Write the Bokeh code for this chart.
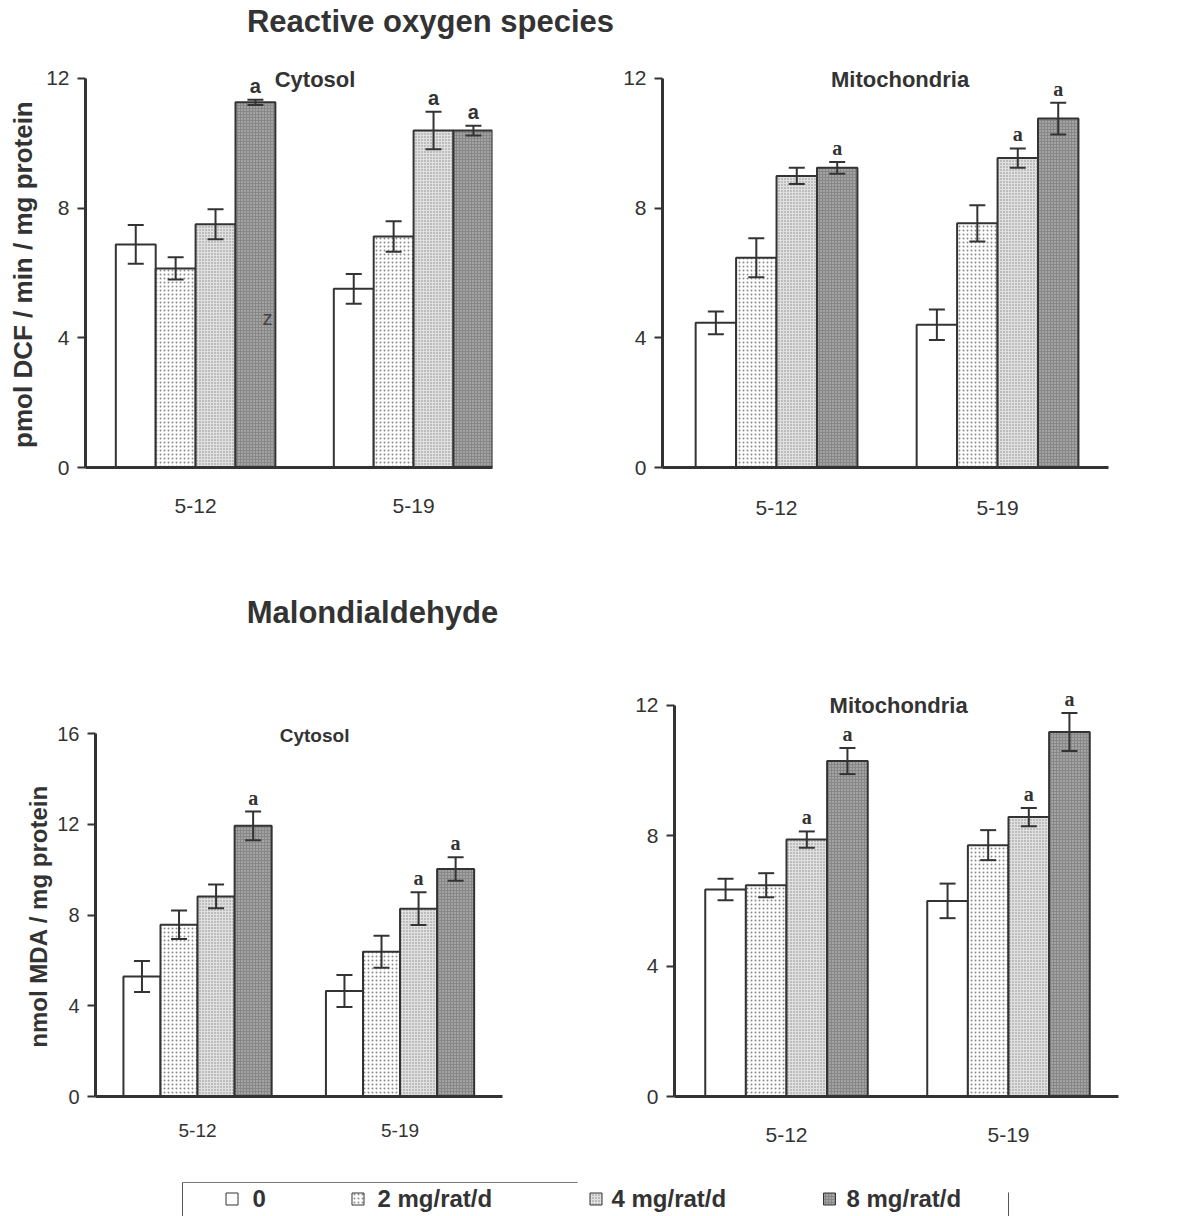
import math

from bokeh.plotting import figure
from bokeh.layouts import column, row
from bokeh.models import ColumnDataSource, Whisker, TeeHead, FixedTicker, Label, Range1d
from bokeh.core.properties import value
from bokeh.embed import file_html
from bokeh.resources import INLINE

# ---------------------------------------------------------------- data
groups = ["5-12", "5-19"]
doses = ["0", "2 mg/rat/d", "4 mg/rat/d", "8 mg/rat/d"]

# reactive oxygen species, pmol DCF / min / mg protein  (rows: groups, cols: doses)
ros_cyt_mean = [[6.88, 6.14, 7.50, 11.26], [5.51, 7.12, 10.39, 10.39]]
ros_cyt_err = [[0.60, 0.34, 0.46, 0.08], [0.46, 0.47, 0.58, 0.15]]
ros_mit_mean = [[4.46, 6.47, 8.99, 9.24], [4.40, 7.53, 9.54, 10.76]]
ros_mit_err = [[0.35, 0.60, 0.25, 0.18], [0.47, 0.56, 0.30, 0.49]]

# malondialdehyde, nmol MDA / mg protein
mda_cyt_mean = [[5.29, 7.57, 8.82, 11.93], [4.65, 6.38, 8.28, 10.03]]
mda_cyt_err = [[0.68, 0.63, 0.52, 0.63], [0.71, 0.71, 0.72, 0.52]]
mda_mit_mean = [[6.35, 6.48, 7.88, 10.29], [6.00, 7.71, 8.57, 11.18]]
mda_mit_err = [[0.33, 0.37, 0.25, 0.40], [0.53, 0.46, 0.28, 0.58]]

# significance letters ("a") per bar
ros_cyt_sig = [[0, 0, 0, 1], [0, 0, 1, 1]]
ros_mit_sig = [[0, 0, 0, 1], [0, 0, 1, 1]]
mda_cyt_sig = [[0, 0, 0, 1], [0, 0, 1, 1]]
mda_mit_sig = [[0, 0, 1, 1], [0, 0, 1, 1]]

# ---------------------------------------------------------------- style
INK = "#333333"
SANS = "Liberation Sans"
SERIF = "Liberation Serif"
BAR_W = 0.183

BAR_STYLES = [
    dict(fill_color="white"),
    dict(fill_color="white", hatch_pattern="dot", hatch_scale=4,
         hatch_color="#8a8a8a", hatch_weight=1),
    dict(fill_color="#e0e0e0", hatch_pattern="dot", hatch_scale=3,
         hatch_color="#8a8a8a", hatch_weight=1),
    dict(fill_color="#878787", hatch_pattern="dot", hatch_scale=3,
         hatch_color="#cdcdcd", hatch_weight=1),
]


def bar_x(gi, si):
    return gi + (si - 1.5) * BAR_W


def blank(width, height):
    p = figure(width=width, height=height, x_range=Range1d(0, width),
               y_range=Range1d(0, height), x_axis_type=None, y_axis_type=None,
               toolbar_location=None, output_backend="svg", min_border=0)
    p.outline_line_color = None
    p.grid.visible = False
    return p


def side_label(text, width, height, x, y, size):
    """Narrow strip carrying a rotated y-axis title."""
    p = blank(width, height)
    p.text(x=[x], y=[y], text=[text], angle=math.pi / 2,
           text_font=value(SANS), text_font_style="bold", text_font_size=size,
           text_color=INK, text_align="center", text_baseline="middle")
    return p


def panel(means, errs, sig, *, width, height, borders, x_range, y_end,
          y_ticks, y_tick_size="21px", x_tick_size="21px", x_standoff=30,
          mark_font=SERIF, title="", title_pos=(0.5, 12.0), title_size="22px"):
    left, right, top, bottom = borders
    p = figure(width=width, height=height, x_range=Range1d(*x_range),
               y_range=Range1d(0, y_end), toolbar_location=None,
               output_backend="svg", min_border_left=left,
               min_border_right=right, min_border_top=top,
               min_border_bottom=bottom)
    p.outline_line_color = None
    p.grid.visible = False
    p.background_fill_color = "white"

    for si, style in enumerate(BAR_STYLES):
        src = ColumnDataSource(dict(
            x=[bar_x(gi, si) for gi in range(len(groups))],
            top=[means[gi][si] for gi in range(len(groups))],
        ))
        p.vbar(x="x", top="top", bottom=0, width=BAR_W, source=src,
               line_color=INK, line_width=2, **style)

    xs, ups, los = [], [], []
    for gi in range(len(groups)):
        for si in range(len(doses)):
            xs.append(bar_x(gi, si))
            ups.append(means[gi][si] + errs[gi][si])
            los.append(means[gi][si] - errs[gi][si])
    wsrc = ColumnDataSource(dict(x=xs, upper=ups, lower=los))
    w = Whisker(base="x", upper="upper", lower="lower", source=wsrc,
                line_color=INK, line_width=2, level="overlay")
    w.upper_head = TeeHead(size=16, line_color=INK, line_width=2)
    w.lower_head = TeeHead(size=16, line_color=INK, line_width=2)
    p.add_layout(w)

    mx, my = [], []
    for gi in range(len(groups)):
        for si in range(len(doses)):
            if sig[gi][si]:
                mx.append(bar_x(gi, si))
                my.append(means[gi][si] + errs[gi][si])
    p.text(x=mx, y=my, text=["a"] * len(mx), text_font=value(mark_font),
           text_font_style="bold", text_font_size="20px", text_color=INK,
           text_align="center", text_baseline="bottom", y_offset=-3)

    p.add_layout(Label(x=title_pos[0], y=title_pos[1], text=title,
                       text_font=SANS, text_font_style="bold",
                       text_font_size=title_size, text_color=INK,
                       text_align="center", text_baseline="middle"))

    xa = p.xaxis[0]
    xa.ticker = FixedTicker(ticks=list(range(len(groups))))
    xa.major_label_overrides = {i: g for i, g in enumerate(groups)}
    xa.major_tick_out = 0
    xa.major_tick_in = 0
    xa.minor_tick_line_color = None
    xa.axis_line_width = 3
    xa.axis_line_color = INK
    xa.major_label_standoff = x_standoff
    xa.major_label_text_font = SANS
    xa.major_label_text_font_size = x_tick_size
    xa.major_label_text_color = INK

    ya = p.yaxis[0]
    ya.ticker = FixedTicker(ticks=y_ticks)
    ya.bounds = (0, y_ticks[-1])
    ya.major_tick_out = 8
    ya.major_tick_in = 0
    ya.major_tick_line_width = 2
    ya.major_tick_line_color = INK
    ya.minor_tick_line_color = None
    ya.axis_line_width = 3
    ya.axis_line_color = INK
    ya.major_label_standoff = 8
    ya.major_label_text_font = SANS
    ya.major_label_text_font_size = y_tick_size
    ya.major_label_text_color = INK
    return p


# ---------------------------------------------------------------- top row: ROS
head1 = blank(1197, 60)
head1.add_layout(Label(x=430, y=39, text="Reactive oxygen species",
                       text_font=SANS, text_font_style="bold",
                       text_font_size="31px", text_color=INK,
                       text_align="center", text_baseline="middle"))

ros_label = side_label("pmol DCF / min / mg protein", 42, 500, 22, 237, "26px")

ros_cyt = panel(ros_cyt_mean, ros_cyt_err, ros_cyt_sig, width=543, height=500,
                borders=(43, 93, 0, 93), x_range=(-0.505, 1.362), y_end=12.55,
                y_ticks=[0, 4, 8, 12], mark_font=SANS, title="Cytosol",
                title_pos=(0.548, 11.97), x_standoff=31)
ros_cyt.add_layout(Label(x=bar_x(0, 3), y=4.6, x_offset=12, text="z",
                         text_font=SANS, text_font_size="20px",
                         text_color="#444444", text_align="center",
                         text_baseline="middle"))

ros_mit = panel(ros_mit_mean, ros_mit_err, ros_mit_sig, width=612, height=500,
                borders=(77, 89, 0, 90), x_range=(-0.516, 1.502), y_end=12.55,
                y_ticks=[0, 4, 8, 12], title="Mitochondria",
                title_pos=(0.559, 11.97), x_standoff=33)

# ---------------------------------------------------------------- bottom row: MDA
head2 = blank(1197, 90)
head2.add_layout(Label(x=372, y=38, text="Malondialdehyde",
                       text_font=SANS, text_font_style="bold",
                       text_font_size="31px", text_color=INK,
                       text_align="center", text_baseline="middle"))

mda_label = side_label("nmol MDA / mg protein", 54, 510, 38, 206, "24px")

mda_cyt = panel(mda_cyt_mean, mda_cyt_err, mda_cyt_sig, width=531, height=510,
                borders=(41, 83, 0, 64), x_range=(-0.504, 1.506), y_end=19.66,
                y_ticks=[0, 4, 8, 12, 16], y_tick_size="20px",
                x_tick_size="19px", x_standoff=27, title="Cytosol",
                title_pos=(0.578, 15.91), title_size="19px")

mda_mit = panel(mda_mit_mean, mda_mit_err, mda_mit_sig, width=612, height=510,
                borders=(89, 79, 0, 63), x_range=(-0.5045, 1.4955), y_end=13.68,
                y_ticks=[0, 4, 8, 12], x_standoff=31, title="Mitochondria",
                title_pos=(0.505, 12.0))

# ---------------------------------------------------------------- legend strip
leg = blank(1197, 56)
leg.segment(x0=[182, 182, 1008], y0=[34, 34, 24], x1=[577, 182, 1008],
            y1=[34, 0, 0], line_color=["#777777", "#555555", "#555555"],
            line_width=1)
key_x = [231.5, 357.5, 595.5, 829.0]
label_x = [252, 377, 611, 846]
for k, style in enumerate(BAR_STYLES):
    leg.rect(x=[key_x[k]], y=[17.5], width=12, height=12, line_color=INK,
             line_width=1, **style)
leg.text(x=label_x, y=[18] * len(doses), text=doses,
         text_font=value(SANS), text_font_style="bold", text_font_size="24px",
         text_color=INK, text_align="left", text_baseline="middle")

layout = column(head1, row(ros_label, ros_cyt, ros_mit), head2,
                row(mda_label, mda_cyt, mda_mit), leg)

with open("out.html", "w") as f:
    f.write(file_html(layout, INLINE))
